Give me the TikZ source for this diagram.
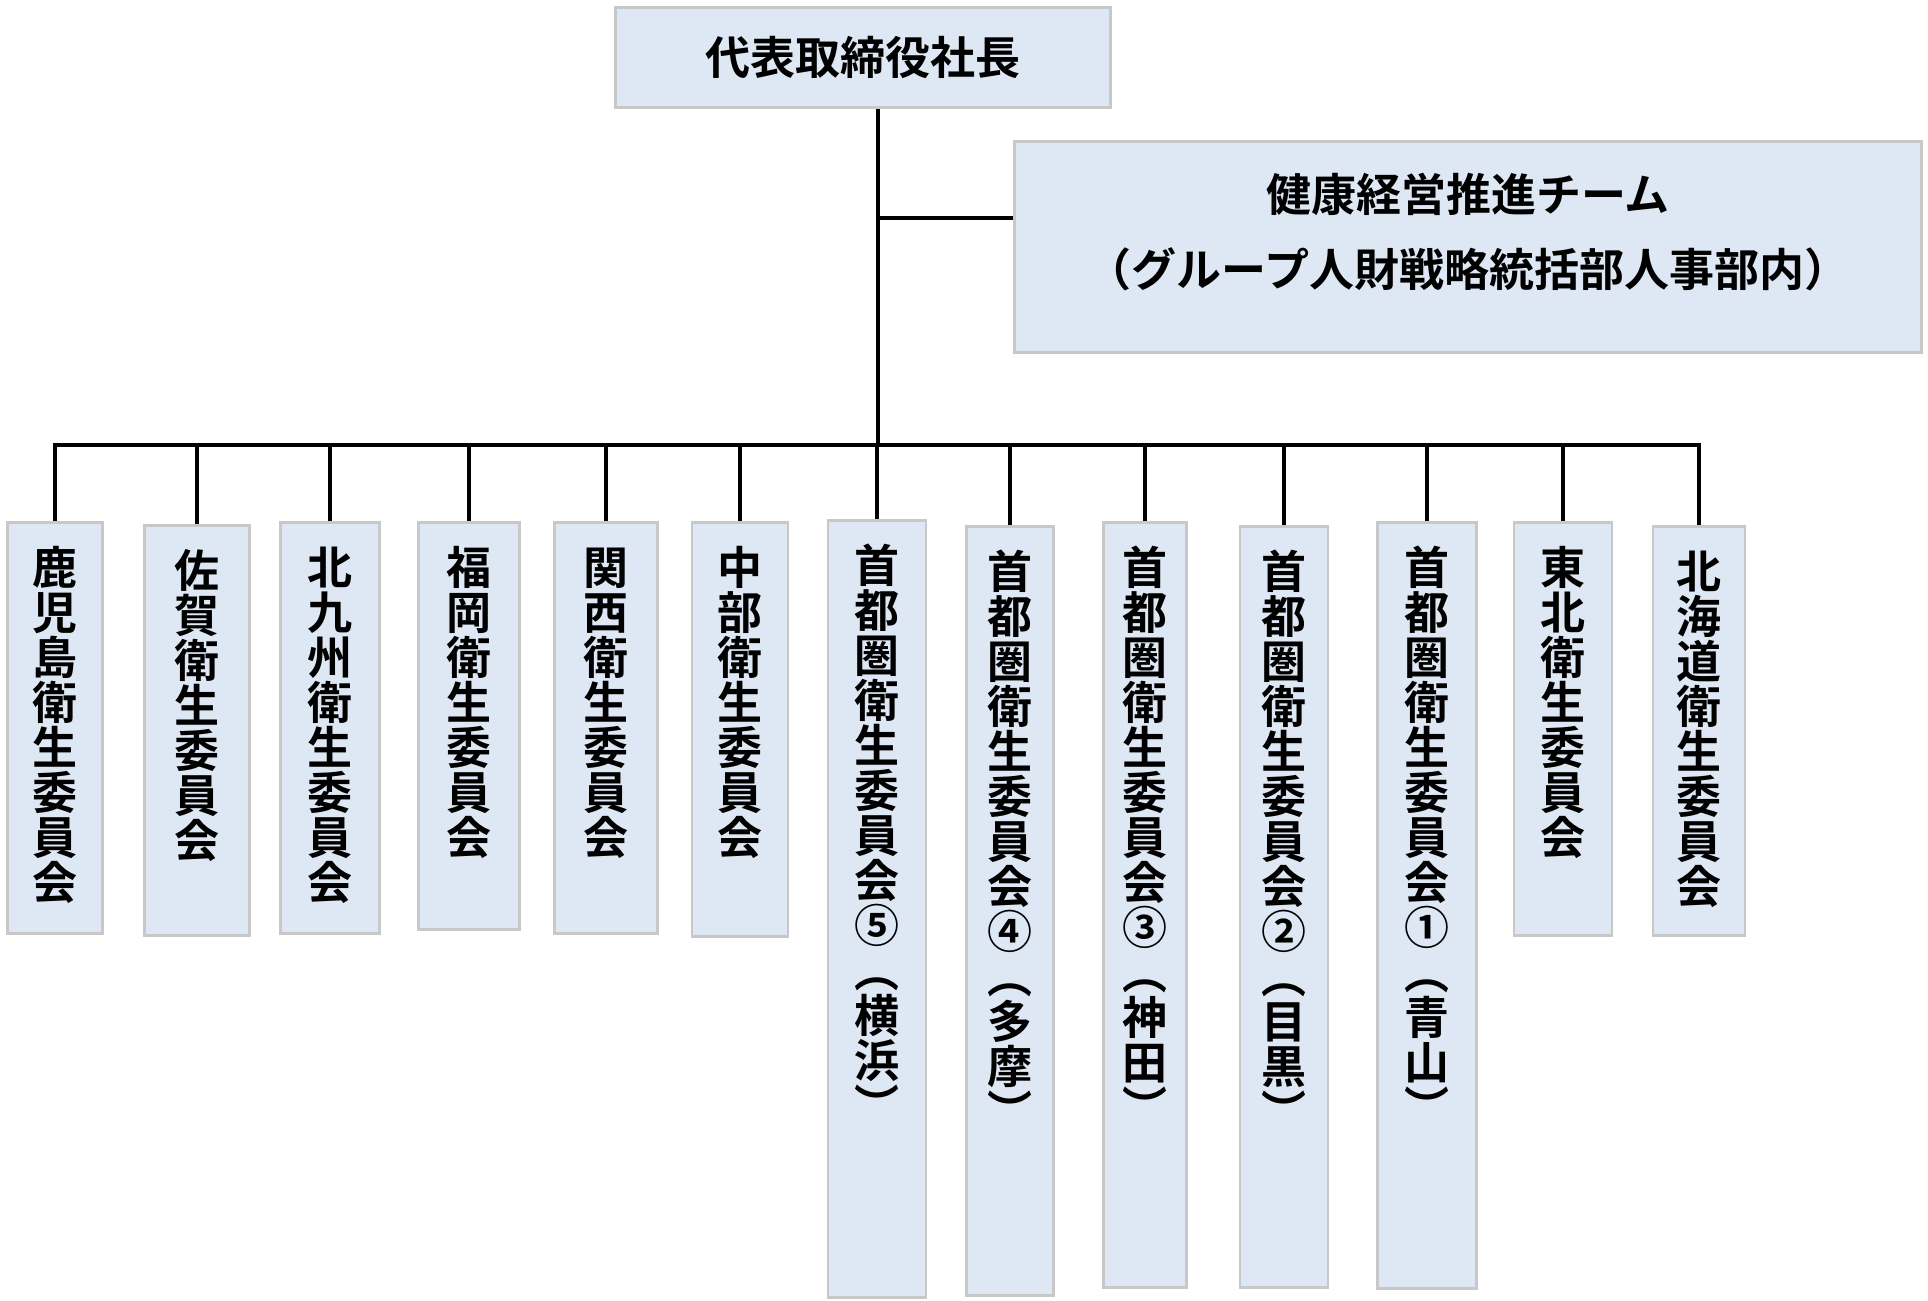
\documentclass[tikz,border=0pt]{standalone}
\usepackage{fontspec}
\usepackage{tikz}
\newfontfamily\jpfont{Noto Sans CJK JP Bold}
\definecolor{boxfill}{HTML}{DEE8F4}
\definecolor{boxline}{HTML}{C8C8C8}
\makeatletter
\newcommand{\tate}[1]{\vtop{\offinterlineskip\tate@next#1\@nil}}
\def\tate@next#1#2\@nil{\hbox to 1em{\hss\vrule width0pt height.88em depth.12em #1\hss}%
  \ifx\relax#2\relax\else\tate@next#2\@nil\fi}
\makeatother
\tikzset{
  box/.style={draw=boxline,fill=boxfill,line width=2.7pt,font=\jpfont\fontsize{45}{45}\selectfont},
  unit/.style={box,anchor=north,inner sep=0pt,text height=62pt,text depth=#1},
  wire/.style={line width=3.3pt,line join=miter}
}

\begin{document}
\begin{tikzpicture}[x=1pt,y=-1pt]
 \useasboundingbox (0,0) rectangle (1928,1301);
 \node[box,minimum width=495pt,minimum height=100pt] (ceo) at (863,57.5) {代表取締役社長};
 \node[box,anchor=north,align=center,inner sep=0pt,minimum width=907pt,text height=145pt,text depth=66pt] (team) at (1468,140)
  {健康経営推進チーム\\[30pt]（グループ人財戦略統括部人事部内）};
 \coordinate (tee) at (878,218);
 \coordinate (bus) at (878,445);
 \node[unit=349pt,minimum width=95pt] (kagoshima) at (55,521) {\tate{鹿児島衛生委員会}};
 \node[unit=348pt,minimum width=105pt] (saga) at (197,524) {\tate{佐賀衛生委員会}};
 \node[unit=349pt,minimum width=99pt] (kitakyushu) at (330,521) {\tate{北九州衛生委員会}};
 \node[unit=345pt,minimum width=101pt] (fukuoka) at (469,521) {\tate{福岡衛生委員会}};
 \node[unit=349pt,minimum width=103pt] (kansai) at (606,521) {\tate{関西衛生委員会}};
 \node[unit=352pt,minimum width=96pt] (chubu) at (740,521) {\tate{中部衛生委員会}};
 \node[unit=715pt,minimum width=98pt] (shuto5) at (877,519) {\tate{首都圏衛生委員会⑤︵横浜︶}};
 \node[unit=707pt,minimum width=87pt] (shuto4) at (1010,525) {\tate{首都圏衛生委員会④︵多摩︶}};
 \node[unit=703pt,minimum width=83pt] (shuto3) at (1145,521) {\tate{首都圏衛生委員会③︵神田︶}};
 \node[unit=699pt,minimum width=88pt] (shuto2) at (1284,525) {\tate{首都圏衛生委員会②︵目黒︶}};
 \node[unit=704pt,minimum width=99pt] (shuto1) at (1427,521) {\tate{首都圏衛生委員会①︵青山︶}};
 \node[unit=351pt,minimum width=98pt] (tohoku) at (1563,521) {\tate{東北衛生委員会}};
 \node[unit=347pt,minimum width=92pt] (hokkaido) at (1699,525) {\tate{北海道衛生委員会}};
 % trunk and branches
 \draw[wire] (ceo.south -| bus) -- (bus);
 \draw[wire] (tee) -- (tee -| team.west);
 \draw[wire] (kagoshima.north) -- (kagoshima.north |- bus) -- (hokkaido.north |- bus) -- (hokkaido.north);
 \draw[wire] (saga.north |- bus) -- (saga.north);
 \draw[wire] (kitakyushu.north |- bus) -- (kitakyushu.north);
 \draw[wire] (fukuoka.north |- bus) -- (fukuoka.north);
 \draw[wire] (kansai.north |- bus) -- (kansai.north);
 \draw[wire] (chubu.north |- bus) -- (chubu.north);
 \draw[wire] (shuto5.north |- bus) -- (shuto5.north);
 \draw[wire] (shuto4.north |- bus) -- (shuto4.north);
 \draw[wire] (shuto3.north |- bus) -- (shuto3.north);
 \draw[wire] (shuto2.north |- bus) -- (shuto2.north);
 \draw[wire] (shuto1.north |- bus) -- (shuto1.north);
 \draw[wire] (tohoku.north |- bus) -- (tohoku.north);
\end{tikzpicture}
\end{document}
